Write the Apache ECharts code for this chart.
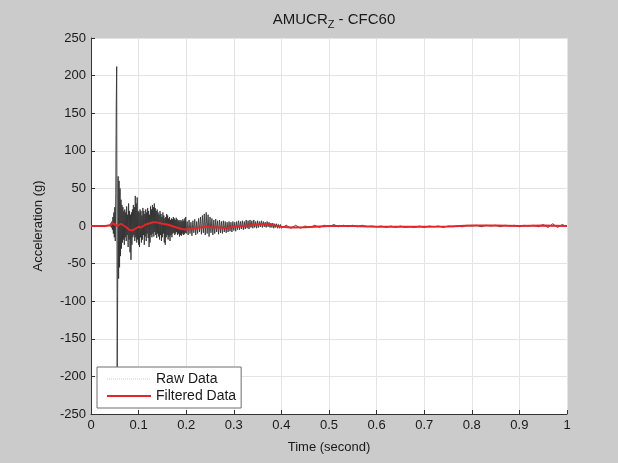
<!DOCTYPE html>
<html>
<head>
<meta charset="utf-8">
<script src="https://cdn.jsdelivr.net/npm/echarts@6/dist/echarts.min.js"></script>
<style>
html,body{margin:0;padding:0;background:#cbcbcb;}
#chart{width:618px;height:463px;}
</style>
</head>
<body>
<div id="chart"></div>
<script>
// ---- data ----
var xTicks = [0,0.1,0.2,0.3,0.4,0.5,0.6,0.7,0.8,0.9,1];
var yTicks = [-250,-200,-150,-100,-50,0,50,100,150,200,250];

var rawTime = [
0,0.01,0.02,0.03,
0.040,0.041,0.042,0.043,0.044,0.045,0.046,0.047,0.048,0.049,
0.050,0.051,0.052,0.053,0.054,0.055,0.056,0.057,0.058,0.059,
0.060,0.061,0.062,0.063,0.064,0.065,0.066,0.067,0.068,0.069,
0.070,0.071,0.072,0.073,0.074,0.075,0.076,0.077,0.078,0.079,
0.080,0.081,0.082,0.083,0.084,0.085,0.086,0.087,0.088,0.089,
0.090,0.091,0.092,0.093,0.094,0.095,0.096,0.097,0.098,0.099,
0.100,0.101,0.102,0.103,0.104,0.105,0.106,0.107,0.108,0.109,
0.110,0.111,0.112,0.113,0.114,0.115,0.116,0.117,0.118,0.119,
0.120,0.121,0.122,0.123,0.124,0.125,0.126,0.127,0.128,0.129,
0.130,0.131,0.132,0.133,0.134,0.135,0.136,0.137,0.138,0.139,
0.140,0.141,0.142,0.143,0.144,0.145,0.146,0.147,0.148,0.149,
0.150,0.151,0.152,0.153,0.154,0.155,0.156,0.157,0.158,0.159,
0.160,0.161,0.162,0.163,0.164,0.165,0.166,0.167,0.168,0.169,
0.170,0.171,0.172,0.173,0.174,0.175,0.176,0.177,0.178,0.179,
0.180,0.181,0.182,0.183,0.184,0.185,0.186,0.187,0.188,0.189,
0.190,0.191,0.192,0.193,0.194,0.195,0.196,0.197,0.198,0.199,
0.200,0.202,0.204,0.206,0.208,0.210,0.212,0.214,0.216,0.218,
0.220,0.222,0.224,0.226,0.228,0.230,0.232,0.234,0.236,0.238,
0.240,0.242,0.244,0.246,0.248,0.250,0.252,0.254,0.256,0.258,
0.260,0.262,0.264,0.266,0.268,0.270,0.272,0.274,0.276,0.278,
0.280,0.282,0.284,0.286,0.288,0.290,0.292,0.294,0.296,0.298,
0.300,0.302,0.304,0.306,0.308,0.310,0.312,0.314,0.316,0.318,
0.320,0.322,0.324,0.326,0.328,0.330,0.332,0.334,0.336,0.338,
0.340,0.342,0.344,0.346,0.348,0.350,0.352,0.354,0.356,0.358,
0.360,0.362,0.364,0.366,0.368,0.370,0.372,0.374,0.376,0.378,
0.380,0.382,0.384,0.386,0.388,0.390,0.392,0.394,0.396,0.398,
0.400,0.41,0.42,0.43,0.44,0.45,0.46,0.47,0.48,0.49,
0.50,0.51,0.52,0.53,0.54,0.55,0.56,0.57,0.58,0.59,
0.60,0.61,0.62,0.63,0.64,0.65,0.66,0.67,0.68,0.69,
0.70,0.71,0.72,0.73,0.74,0.75,0.76,0.77,0.78,0.79,
0.80,0.81,0.82,0.83,0.84,0.85,0.86,0.87,0.88,0.89,
0.90,0.91,0.92,0.93,0.94,0.95,0.96,0.97,0.98,0.99,1.00
];
var rawAccel = [
0,0.5,-0.5,0.5,
1,-1,3,-2,6,-5,12,-10,18,-15,
25,-20,45,160,212,-195,-90,66,-70,60,
-55,50,-40,35,-30,28,-22,25,-18,20,
-25,22,-15,18,-20,26,-12,15,-28,30,
-18,20,-35,15,-45,18,-25,22,-15,28,
-12,25,-20,40,-15,30,-22,38,-18,20,
-25,18,-28,22,-15,20,-22,14,-18,24,
-12,20,-25,16,-14,22,-20,18,-10,24,
-16,20,-28,15,-22,26,-12,22,-15,28,
-10,25,-14,30,-8,24,-12,20,-16,22,
-10,18,-14,15,-18,20,-12,16,-20,12,
-15,18,-10,14,-22,10,-25,12,-15,16,
-12,14,-18,10,-14,12,-20,8,-12,10,
-15,9,-10,12,-9,10,-12,8,-10,11,
-8,9,-12,7,-10,8,-14,6,-12,8,
-13,6,-10,9,-12,7,-11,10,-9,12,
-10,6,-12,8,-10,5,-13,7,-9,9,
-12,6,-10,10,-8,12,-11,14,-9,16,
-12,18,-10,15,-14,12,-9,10,-12,8,
-10,9,-8,7,-11,8,-9,6,-10,7,
-8,6,-9,5,-8,6,-7,5,-8,6,
-6,5,-7,6,-5,7,-5,6,-4,7,
-5,6,-4,8,-3,7,-4,8,-2,7,
-3,8,-2,6,-3,7,-2,6,-1,7,
-2,6,-1,5,-2,6,-1,5,-2,4,
-2,4,-3,3,-2,3,-3,2,-3,2,
-3,1,-3,1,-3,0,-2,1,-2,1,
-1,2,-1,1,-1,1,-1,1,-1,0,
-1,0,-2,0,-2,0,-2,-1,-2,0,
-2,0,-1,0,-2,0,-1,0,-1,1,
0,1,-1,1,0,1,-1,1,0,1,
-1,1,0,1,-1,2,-2,3,-2,2,-1
];

var filtTime = [0,0.03,0.04,0.044,0.047,0.05,0.053,0.056,0.06,0.063,0.066,0.07,0.075,0.08,0.085,0.09,0.095,0.1,0.105,0.11,0.115,0.12,0.125,0.13,0.135,0.14,0.15,0.16,0.17,0.18,0.19,0.2,0.21,0.22,0.23,0.24,0.25,0.26,0.27,0.28,0.29,0.3,0.32,0.34,0.36,0.38,0.4,0.42,0.45,0.5,0.55,0.6,0.65,0.7,0.75,0.8,0.85,0.9,0.95,1.0];
var filtAccel = [0,0,1,4,5,2,3,0,1,3,2,0,-2,-5,-6,-5,-3,-1,-2,0,2,3,4,5,5,4.5,3,2,0,-2,-4,-4.5,-4,-3,-2,-1,-1.5,-2,-2,-2.5,-2,-1,0,1.5,2.5,1.5,-1,-2,-1.5,0,0,-1,-1,-1,-0.5,0.5,0.5,0,0.5,0];

var titleMain = 'AMUCR';
var titleSub = 'Z';
var titleRest = ' - CFC60';
var xName = 'Time (second)';
var yName = 'Acceleration (g)';
var seriesNames = ['Raw Data','Filtered Data'];

// ---- build ----
function pairs(t, v){ var o=[]; for(var i=0;i<t.length;i++) o.push([t[i], v[i]]); return o; }
var font = "'Liberation Sans', Arial, Helvetica, sans-serif";
var txt = '#1a1a1a';
var chart = echarts.init(document.getElementById('chart'), null, {renderer:'canvas'});
chart.setOption({
  backgroundColor:'#cbcbcb',
  animation:false,
  title:{
    text: titleMain + '{s|' + titleSub + '}' + titleRest,
    left: 329, top: 4, textAlign:'center',
    textStyle:{fontFamily:font, fontSize:15, fontWeight:'normal', color:txt,
      rich:{s:{fontFamily:font, fontSize:11, color:txt, padding:[10,0,0,0]}}}
  },
  grid:{left:91, right:51, top:38, bottom:49, show:true, backgroundColor:'#ffffff', borderWidth:0},
  legend:{
    orient:'vertical', left:97, top:367,
    backgroundColor:'#ffffff', borderColor:'#6e6e6e', borderWidth:1, borderRadius:0,
    padding:[5,5,5,9], itemGap:3, itemWidth:44, itemHeight:14,
    itemStyle:{opacity:0},
    textStyle:{fontFamily:font, fontSize:14, color:txt},
    data:[
      {name:seriesNames[0], itemStyle:{opacity:0}, lineStyle:{color:'#c4c4c4', width:1, type:'dotted'}},
      {name:seriesNames[1], itemStyle:{opacity:0}, lineStyle:{color:'#e3262b', width:2}}
    ]
  },
  xAxis:{
    type:'value', min:0, max:1, interval:0.1,
    name:xName, nameLocation:'middle', nameGap:27,
    nameTextStyle:{fontFamily:font, fontSize:13, color:txt},
    axisLine:{show:true, onZero:false, lineStyle:{color:'#333', width:1}},
    axisTick:{show:true, inside:true, length:4, lineStyle:{color:'#333'}},
    axisLabel:{fontFamily:font, fontSize:13, color:txt, margin:5,
      formatter:function(v){ return String(+v.toFixed(1)); }},
    splitLine:{show:true, lineStyle:{color:'#e4e4e4', width:1}}
  },
  yAxis:{
    type:'value', min:-250, max:250, interval:50,
    name:yName, nameLocation:'middle', nameGap:46,
    nameTextStyle:{fontFamily:font, fontSize:13, color:txt},
    axisLine:{show:true, onZero:false, lineStyle:{color:'#333', width:1}},
    axisTick:{show:true, inside:true, length:4, lineStyle:{color:'#333'}},
    axisLabel:{fontFamily:font, fontSize:13, color:txt, margin:5},
    splitLine:{show:true, lineStyle:{color:'#e4e4e4', width:1}}
  },
  series:[
    {name:seriesNames[0], type:'line', data:pairs(rawTime, rawAccel), showSymbol:false, symbol:'none',
     lineStyle:{color:'#2e2e2e', width:1, opacity:0.85}, itemStyle:{color:'#2e2e2e'}, z:2},
    {name:seriesNames[1], type:'line', data:pairs(filtTime, filtAccel), showSymbol:false, symbol:'none',
     lineStyle:{color:'#e3262b', width:2}, itemStyle:{color:'#e3262b'}, z:3}
  ]
});
</script>
</body>
</html>
